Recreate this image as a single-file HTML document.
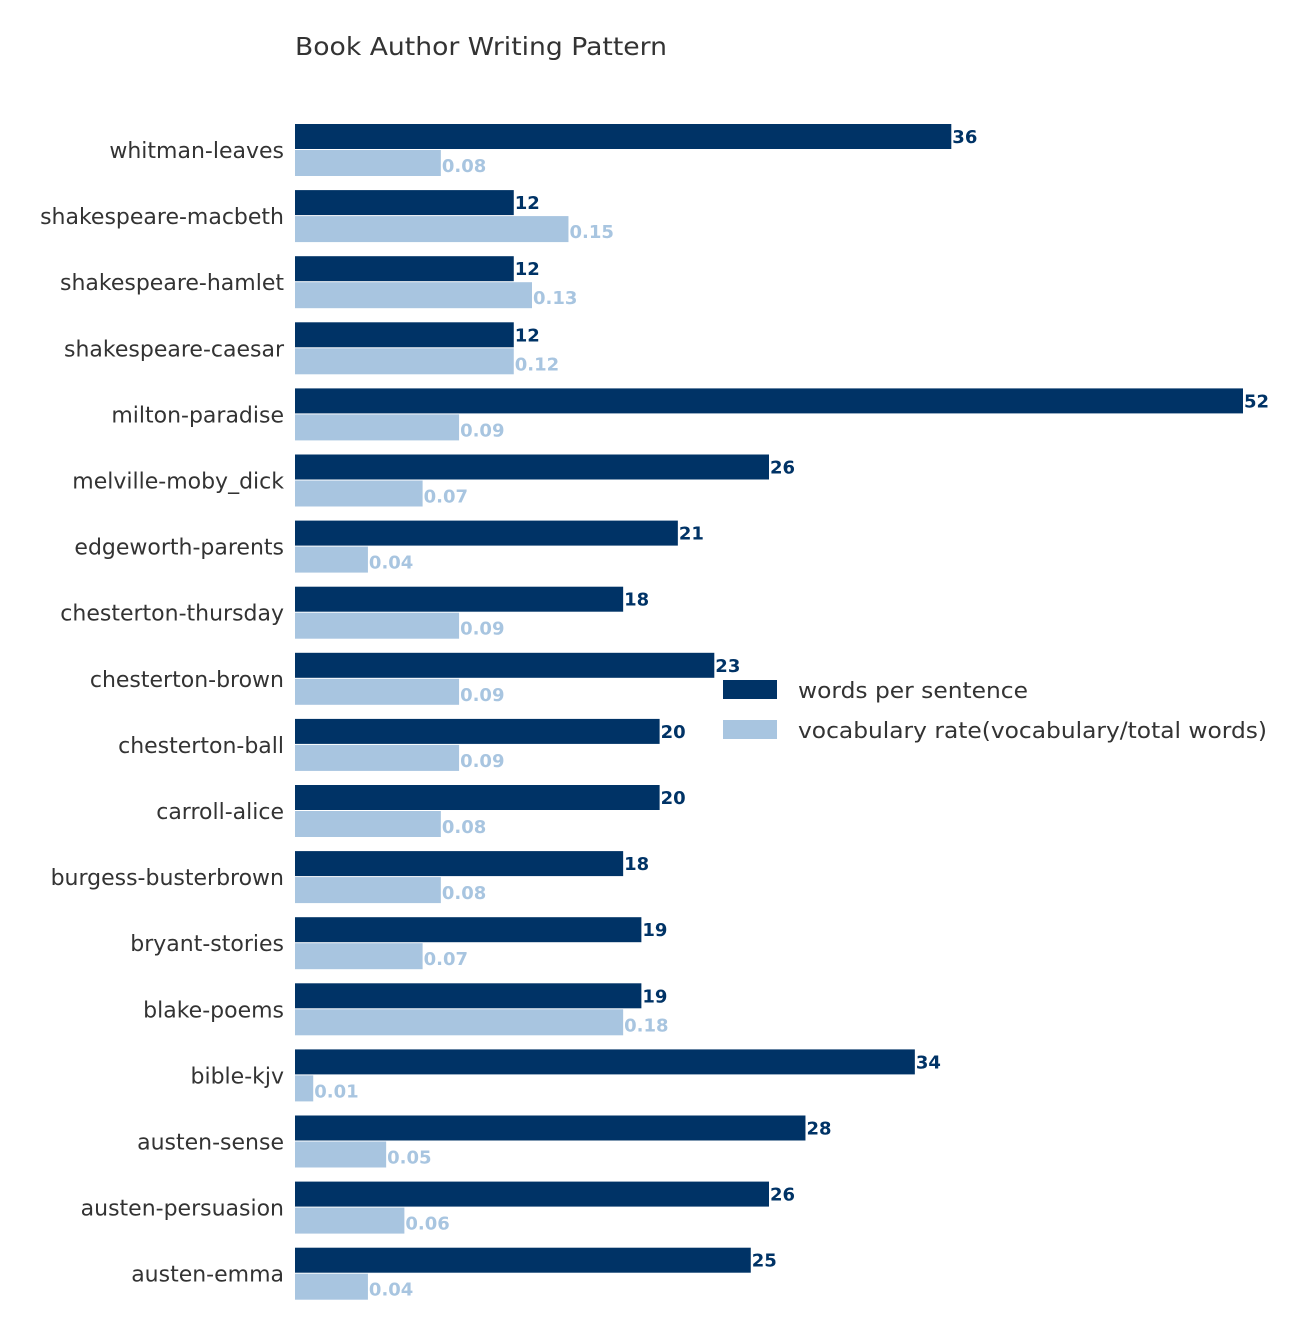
<!DOCTYPE html>
<html><head><meta charset="utf-8"><style>
body{margin:0;background:#fff;}
svg{display:block;font-family:"DejaVu Sans","Liberation Sans",sans-serif;}
</style></head><body>
<svg id="chart" width="1303" height="1330">
<text x="295" y="55" font-size="25" fill="#333" textLength="372" lengthAdjust="spacingAndGlyphs">Book Author Writing Pattern</text>
<g id="bars"></g>
<g>
<rect x="723" y="680" width="54" height="19" fill="#003366"/>
<text x="798" y="698" font-size="22" fill="#333" textLength="230" lengthAdjust="spacingAndGlyphs">words per sentence</text>
<rect x="723" y="720" width="54" height="19" fill="#a8c5e0"/>
<text x="798" y="738" font-size="22" fill="#333" textLength="469" lengthAdjust="spacingAndGlyphs">vocabulary rate(vocabulary/total words)</text>
</g>
</svg>
<script>
const categories=["whitman-leaves","shakespeare-macbeth","shakespeare-hamlet","shakespeare-caesar","milton-paradise","melville-moby_dick","edgeworth-parents","chesterton-thursday","chesterton-brown","chesterton-ball","carroll-alice","burgess-busterbrown","bryant-stories","blake-poems","bible-kjv","austen-sense","austen-persuasion","austen-emma"];
const wordsPerSentence=[36,12,12,12,52,26,21,18,23,20,20,18,19,19,34,28,26,25];
const vocabRate=[0.08,0.15,0.13,0.12,0.09,0.07,0.04,0.09,0.09,0.09,0.08,0.08,0.07,0.18,0.01,0.05,0.06,0.04];
const x0=295,pxPerUnit=948/52,top0=124,pitch=66.1,bh=26;
const xs=v=>x0+v*pxPerUnit;
const g=document.getElementById('bars');
const NS="http://www.w3.org/2000/svg";
function mk(t,a){const e=document.createElementNS(NS,t);for(const k in a)e.setAttribute(k,a[k]);return e;}
categories.forEach((c,i)=>{
 const y=top0+i*pitch;
 const lab=mk('text',{x:284,y:y+bh+8,'font-size':22,fill:'#333','text-anchor':'end'});
 lab.textContent=c;
 
 
 g.appendChild(lab);
 const w=wordsPerSentence[i];
 const r1=mk('rect',{x:x0,y:y,width:xs(w)-x0,height:bh-1,fill:'#003366'});
 
 
 g.appendChild(r1);
 const t1=mk('text',{x:xs(w)+1,y:y+19,'font-size':18,'font-weight':'bold',fill:'#003366'});
 t1.textContent=Math.round(w);
 
 
 g.appendChild(t1);
 const v=vocabRate[i];
 const r2=mk('rect',{x:x0,y:y+bh,width:xs(v*100)-x0,height:bh,fill:'#a8c5e0'});
 
 
 g.appendChild(r2);
 const t2=mk('text',{x:xs(v*100)+1,y:y+bh+22,'font-size':18,'font-weight':'bold',fill:'#a8c5e0'});
 t2.textContent=v.toFixed(2);
 
 
 g.appendChild(t2);
});
</script>
</body></html>
